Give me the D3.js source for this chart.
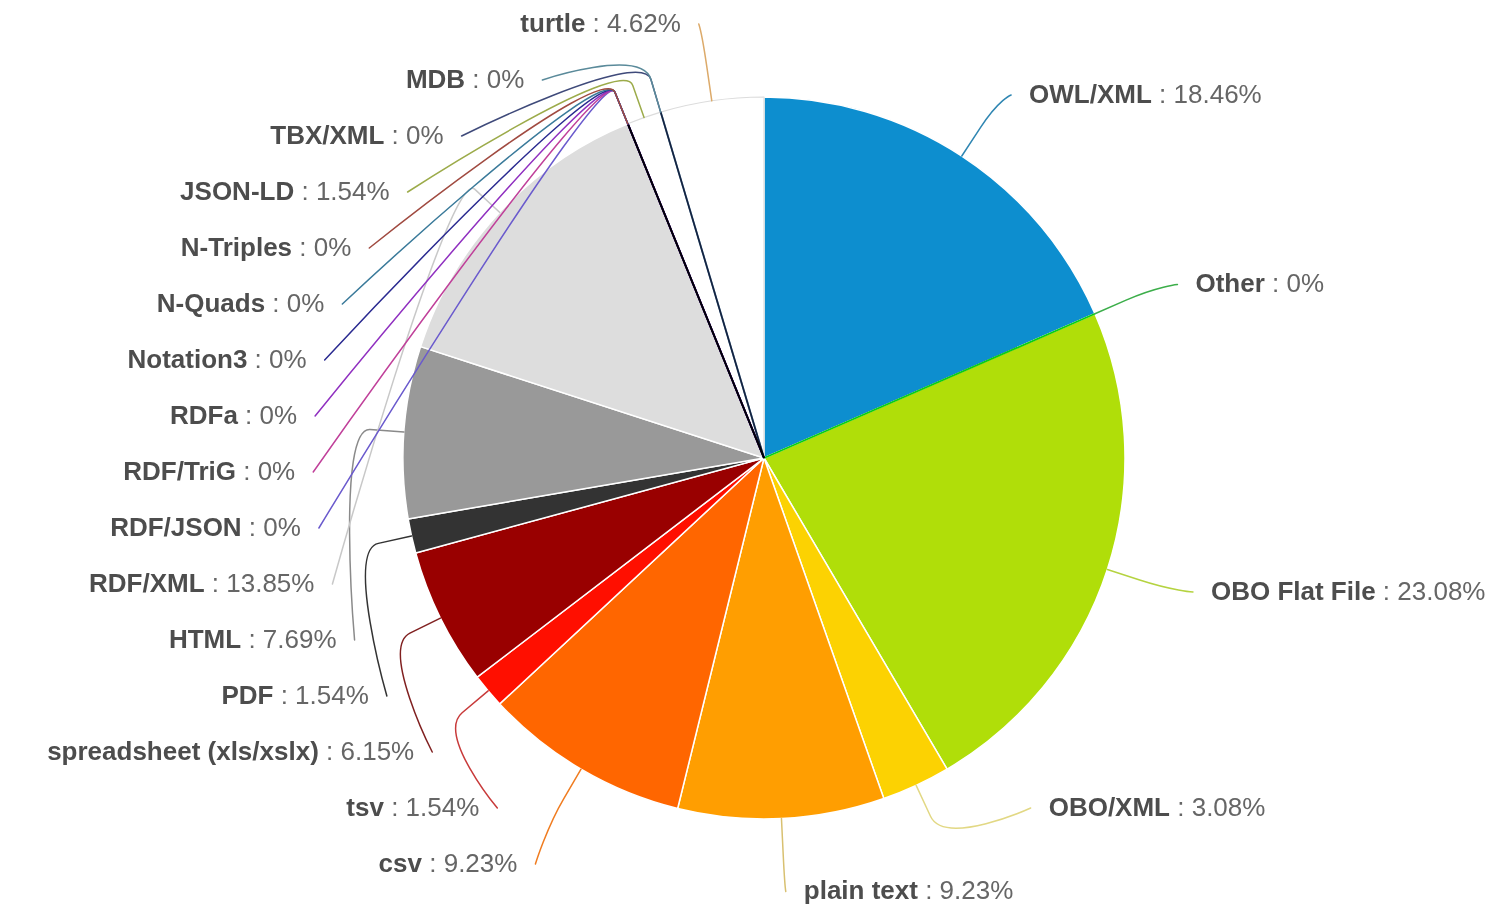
<!DOCTYPE html>
<html>
<head>
<meta charset="utf-8">
<script src="https://cdn.jsdelivr.net/npm/d3@7"></script>
<style>
  html, body { margin: 0; padding: 0; background: #ffffff; }
  svg { display: block; }
  text { font-family: "Liberation Sans", Arial, sans-serif; }
</style>
</head>
<body>
<svg id="chart" width="1495" height="905"></svg>
<script>
// Share of files per format (percent), in clockwise order from 12 o'clock
const formats = [
  "OWL/XML", "Other", "OBO Flat File", "OBO/XML", "plain text", "csv", "tsv",
  "spreadsheet (xls/xslx)", "PDF", "HTML", "RDF/XML", "RDF/JSON", "RDF/TriG",
  "RDFa", "Notation3", "N-Quads", "N-Triples", "JSON-LD", "TBX/XML", "MDB", "turtle"
];
const shares = [
  18.46, 0, 23.08, 3.08, 9.23, 9.23, 1.54,
  6.15, 1.54, 7.69, 13.85, 0, 0,
  0, 0, 0, 0, 1.54, 0, 0, 4.62
];
const sliceColors = [
  "#0D8ECF", "#04D215", "#B0DE09", "#FCD202", "#FF9E01", "#FF6600", "#FF0F00",
  "#990000", "#333333", "#999999", "#DDDDDD", "#6A5ACD", "#C0409A",
  "#9030C0", "#2A2A90", "#3A7A9A", "#A04A40", "#FFFFFF", "#3F4A7A", "#5A8A9A", "#FFFFFF"
];
const connectorColors = [
  "#2F86B2", "#3CAE4A", "#B5D340", "#E2D884", "#D8C070", "#F07C20", "#C83A3A",
  "#802020", "#333333", "#8A8A8A", "#C8C8C8", "#6A5ACD", "#C0409A",
  "#9030C0", "#2A2A90", "#3A7A9A", "#A04A40", "#9CAB4A", "#3F4A7A", "#5A8A9A", "#DCAA6A"
];

// Geometry
const cx = 764, cy = 458, R = 361;
const labelRy = R + 73;      // vertical reach of the label ring
const labelRx = R + 90;      // horizontal reach of the label ring
const breakOffset = 34;      // connector bend just outside the pie
const slotHeight = 56;       // vertical space reserved per label
const labelPad = 18;         // gap between connector end and text

const svg = d3.select("#chart");
const g = svg.append("g");

const pie = d3.pie().sort(null).value(d => d);
const arcs = pie(shares).map((a, i) => ({ ...a, i }));
const arcGen = d3.arc().innerRadius(0).outerRadius(R);

const at = (angle, r) => [cx + r * Math.sin(angle), cy - r * Math.cos(angle)];
const isWhite = c => c.toUpperCase() === "#FFFFFF";

// Slices
const slices = g.append("g").attr("transform", `translate(${cx},${cy})`);
slices.selectAll("path.slice")
  .data(arcs.filter(a => a.value > 0))
  .join("path")
  .attr("class", "slice")
  .attr("d", arcGen)
  .attr("fill", a => sliceColors[a.i])
  .attr("stroke", a => isWhite(sliceColors[a.i]) ? "#DCDCDC" : "#FFFFFF")
  .attr("stroke-width", a => isWhite(sliceColors[a.i]) ? 1.2 : 1.5)
  .attr("stroke-linejoin", "round");

// Zero-width slices collapse to a radial line; coincident ones darken together
slices.selectAll("line.zero")
  .data(arcs.filter(a => a.value === 0))
  .join("line")
  .attr("class", "zero")
  .attr("x1", 0).attr("y1", 0)
  .attr("x2", a => R * Math.sin(a.startAngle))
  .attr("y2", a => -R * Math.cos(a.startAngle))
  .attr("stroke", a => sliceColors[a.i])
  .attr("stroke-width", 1.8)
  .style("mix-blend-mode", "multiply");

// Label layout: natural positions on the ring, then snapped into slots per side
const labels = arcs.map(a => {
  const mid = (a.startAngle + a.endAngle) / 2;
  return {
    i: a.i,
    mid,
    left: mid >= Math.PI,
    natY: cy - labelRy * Math.cos(mid)
  };
});

const slots = [];
for (let y = cy - labelRy; y <= cy + labelRy + 0.01; y += slotHeight) slots.push(y);

function layoutSide(items) {
  const used = new Array(slots.length).fill(false);
  let prev = -1;
  items.forEach((it, j) => {
    const closest = d3.minIndex(slots, s => Math.abs(s - it.natY));
    let idx = Math.max(closest, prev + 1);
    idx = Math.min(idx, slots.length - (items.length - j));
    used[idx] = true;
    it.slot = idx;
    prev = idx;
  });
  items.forEach(it => {
    const s = slots[it.slot];
    let y = s;
    const nextFree = !used[it.slot + 1];
    const prevFree = it.slot === 0 ? true : !used[it.slot - 1];
    if ((it.natY > s && nextFree) || (it.natY < s && prevFree)) y = it.natY;
    it.y = y;
    const edgeSlot = it.slot === 0 || it.slot === slots.length - 1;
    const yForX = (edgeSlot || y === it.natY) ? it.natY : y;
    const k = Math.max(-1, Math.min(1, (yForX - cy) / labelRy));
    const dx = labelRx * Math.cos(Math.asin(k));
    it.x = it.left ? cx - dx : cx + dx;
  });
}

const rightSide = labels.filter(d => !d.left).sort((a, b) => a.i - b.i);
const leftSide = labels.filter(d => d.left).sort((a, b) => b.i - a.i);
layoutSide(rightSide);
layoutSide(leftSide);

// Connectors: label end -> soft curve -> bend point -> slice edge
const connectors = g.append("g").attr("fill", "none");
connectors.selectAll("path")
  .data(labels)
  .join("path")
  .attr("d", d => {
    const e = at(d.mid, R);
    const b = at(d.mid, R + breakOffset);
    const c2 = [2 * b[0] - e[0], 2 * b[1] - e[1]];
    const p = d3.path();
    p.moveTo(d.x, d.y);
    p.bezierCurveTo(d.x, d.y, c2[0], c2[1], b[0], b[1]);
    p.lineTo(e[0], e[1]);
    return p.toString();
  })
  .attr("stroke", d => connectorColors[d.i])
  .attr("stroke-width", 1.5)
  .attr("stroke-linecap", "round");

// Labels
const texts = g.append("g").selectAll("text")
  .data(labels)
  .join("text")
  .attr("x", d => d.left ? d.x - labelPad : d.x + labelPad)
  .attr("y", d => d.y)
  .attr("dy", "0.3em")
  .attr("text-anchor", d => d.left ? "end" : "start")
  .attr("font-size", "26px");

texts.append("tspan")
  .attr("font-weight", "bold")
  .attr("fill", "#4d4d4d")
  .text(d => formats[d.i]);
texts.append("tspan")
  .attr("fill", "#666666")
  .text(d => ` : ${shares[d.i]}%`);
</script>
</body>
</html>
